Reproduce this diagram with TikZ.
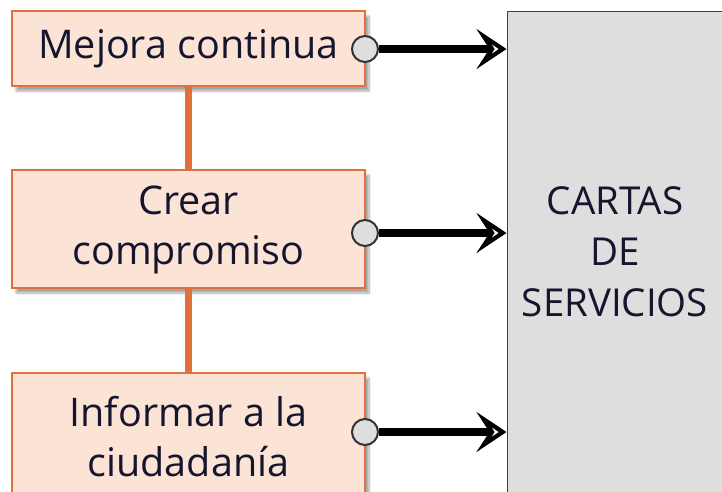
\documentclass[tikz,border=0pt]{standalone}
\usepackage{fontspec}
\setmainfont{Open Sans}
\usetikzlibrary{arrows.meta,shadows.blur}
\definecolor{peach}{HTML}{FBE4D6}
\definecolor{orangeline}{HTML}{E0703C}
\definecolor{boxgray}{HTML}{DEDEDE}
\definecolor{txt}{HTML}{15152E}
\newcommand{\shiftlines}[2]{\raisebox{#1}{\begin{tabular}{@{}c@{}}#2\end{tabular}}}
\tikzset{
  stagebox/.style={draw=orangeline, line width=1.8pt, fill=peach, minimum width=353pt,
    align=center, text=txt, font=\fontsize{39.5}{50}\selectfont, inner sep=0pt,
    blur shadow={shadow xshift=4pt, shadow yshift=-5pt, shadow blur steps=10, shadow opacity=35}},
  bigbox/.style={draw=black!75, line width=1pt, fill=boxgray, align=center, text=txt,
    font=\fontsize{38.5}{51}\selectfont, inner sep=0pt},
  joint/.style={circle, draw=black!80, line width=2pt, fill=boxgray, minimum size=26pt, inner sep=0pt},
  link/.style={orangeline, line width=7pt},
  feed/.style={line width=7.5pt, -{Stealth[open, length=30pt, width=40pt, inset=13pt, line width=4.5pt]}}
}
\begin{document}
\begin{tikzpicture}[x=1pt,y=-1pt]
\useasboundingbox (0,0) rectangle (722,491);
\node[bigbox, minimum width=216pt, minimum height=489pt] (cartas) at (615,255.5) {\shiftlines{4pt}{CARTAS\\DE\\SERVICIOS}};
\node[stagebox, minimum height=75pt] (mejora) at (188.5,48.5) {\raisebox{-3pt}{Mejora continua}};
\node[stagebox, minimum height=118pt] (crear) at (188.5,229) {\shiftlines{-4pt}{Crear\\compromiso}};
\node[stagebox, minimum height=127pt] (informar) at (188.5,436.5) {Informar a la\\ciudadanía};
\draw[link] (mejora.south) -- (crear.north);
\draw[link] (crear.south) -- (informar.north);
\node[joint] (j1) at (365,49) {};
\node[joint] (j2) at (365,233) {};
\node[joint] (j3) at (365,432) {};
\coordinate (t1) at (cartas.west |- j1);
\coordinate (t2) at (cartas.west |- j2);
\coordinate (t3) at (cartas.west |- j3);
\draw[feed] (j1.east) -- (t1);
\draw[feed] (j2.east) -- (t2);
\draw[feed] (j3.east) -- (t3);
\end{tikzpicture}
\end{document}
